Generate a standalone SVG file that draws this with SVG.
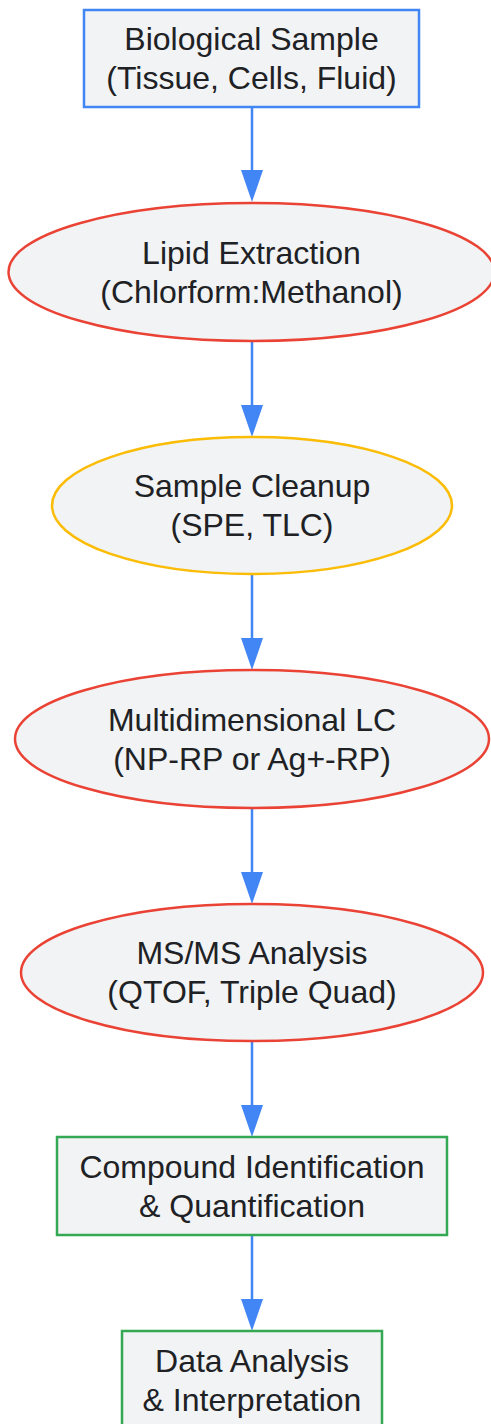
<svg xmlns="http://www.w3.org/2000/svg" width="491" height="1424" viewBox="0 0 491 1424">
<style>
.n{fill:#f1f3f4;stroke-width:2.5}
.b{stroke:#4285F4}.r{stroke:#EA4335}.y{stroke:#FBBC05}.g{stroke:#34A853}
text{font-family:"Liberation Sans",Arial,sans-serif;font-size:32px;fill:#202124;text-anchor:middle}
.e{stroke:#4285F4;stroke-width:2.5;fill:none}
.h{fill:#4285F4}
</style>
<defs>
<path id="ah" d="M-11,0 H11 L0,32 Z"/>
</defs>
<g id="connectors">
<path class="e" d="M252,107 V172"/><use href="#ah" class="h" x="252" y="170"/>
<path class="e" d="M252,341 V407"/><use href="#ah" class="h" x="252" y="405"/>
<path class="e" d="M252,574 V640"/><use href="#ah" class="h" x="252" y="638"/>
<path class="e" d="M252,808 V874"/><use href="#ah" class="h" x="252" y="872"/>
<path class="e" d="M252,1041 V1107"/><use href="#ah" class="h" x="252" y="1105"/>
<path class="e" d="M252,1236 V1301"/><use href="#ah" class="h" x="252" y="1299"/>
</g>
<g id="n1"><rect class="n b" x="84" y="10" width="335" height="97"/>
<text x="251.5" y="50">Biological Sample</text><text x="251.5" y="89">(Tissue, Cells, Fluid)</text></g>
<g id="n2"><ellipse class="n r" cx="251.5" cy="272" rx="243" ry="69"/>
<text x="251.5" y="264">Lipid Extraction</text><text x="251.5" y="303">(Chlorform:Methanol)</text></g>
<g id="n3"><ellipse class="n y" cx="252" cy="505.5" rx="200" ry="68.5"/>
<text x="252" y="497">Sample Cleanup</text><text x="252" y="536">(SPE, TLC)</text></g>
<g id="n4"><ellipse class="n r" cx="252" cy="739" rx="237" ry="69"/>
<text x="252" y="731">Multidimensional LC</text><text x="252" y="770">(NP-RP or Ag+-RP)</text></g>
<g id="n5"><ellipse class="n r" cx="252" cy="972.5" rx="231" ry="68.5"/>
<text x="252" y="964">MS/MS Analysis</text><text x="252" y="1003">(QTOF, Triple Quad)</text></g>
<g id="n6"><rect class="n g" x="57" y="1137" width="390" height="98"/>
<text x="252" y="1178">Compound Identification</text><text x="252" y="1217">&amp; Quantification</text></g>
<g id="n7"><rect class="n g" x="122" y="1331" width="260" height="98"/>
<text x="252" y="1372">Data Analysis</text><text x="252" y="1411">&amp; Interpretation</text></g>
</svg>
